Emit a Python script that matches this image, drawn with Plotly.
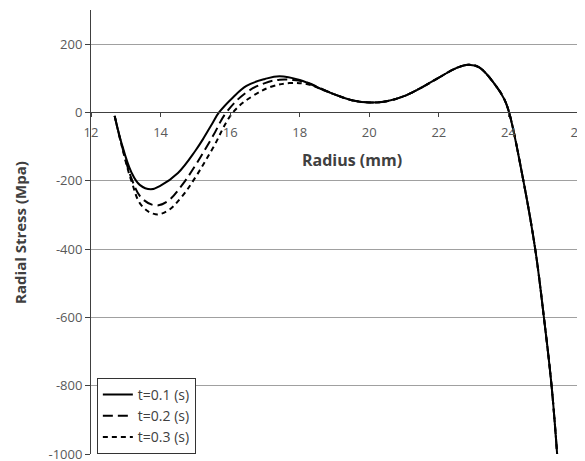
import plotly.graph_objects as go

# Radius (mm) and radial stress (MPa) for each time
r_t01 = [12.68, 12.87, 13.16, 13.40, 13.72, 14.0, 14.5, 15.0, 15.22, 15.5, 15.68, 16.08, 16.47, 17.0, 17.42, 18.0, 18.7, 19.0, 19.5, 20.05, 20.5, 21.0, 21.5, 22.0, 22.5, 22.85, 23.16, 23.64, 23.88, 24.02, 24.43, 24.77, 25.02, 25.24, 25.40]
s_t01 = [-10, -87, -175, -212, -225, -214, -177, -112, -78, -30, 0, 44, 78, 98, 106, 95, 65, 53, 36, 29, 33, 48, 73, 102, 130, 140, 132, 78, 39, 0, -200, -400, -600, -800, -1000]

r_t02 = [12.68, 12.87, 13.16, 13.45, 13.85, 14.2, 14.6, 15.0, 15.5, 15.89, 16.47, 17.0, 17.42, 17.8, 18.2, 18.7, 19.0, 19.5, 20.05, 20.5, 21.0, 21.5, 22.0, 22.5, 22.85, 23.16, 23.64, 23.88, 24.02, 24.43, 24.77, 25.02, 25.24, 25.40]
s_t02 = [-10, -90, -192, -250, -272, -260, -215, -155, -70, 0, 59, 86, 96, 95, 88, 66, 53, 36, 29, 33, 48, 73, 102, 130, 140, 132, 78, 39, 0, -200, -400, -600, -800, -1000]

r_t03 = [12.68, 12.87, 13.16, 13.45, 13.85, 14.2, 14.6, 15.0, 15.5, 16.08, 16.66, 17.2, 17.71, 18.2, 18.7, 19.0, 19.5, 20.05, 20.5, 21.0, 21.5, 22.0, 22.5, 22.85, 23.16, 23.64, 23.88, 24.02, 24.43, 24.77, 25.02, 25.24, 25.40]
s_t03 = [-10, -92, -200, -272, -298, -288, -248, -190, -105, 0, 49, 76, 86, 83, 65, 53, 36, 29, 33, 48, 73, 102, 130, 140, 132, 78, 39, 0, -200, -400, -600, -800, -1000]

series_names = ["t=0.1 (s)", "t=0.2 (s)", "t=0.3 (s)"]

x_range = [12, 26]
y_range = [-1000, 300]
x_ticks = [12, 14, 16, 18, 20, 22, 24, 26]
y_ticks = [-1000, -800, -600, -400, -200, 0, 200]

FONT = "Open Sans"

fig = go.Figure()
dashes = ["solid", "10px,5px", "5px,4px"]
for name, xs, ys, dash in zip(series_names, [r_t01, r_t02, r_t03], [s_t01, s_t02, s_t03], dashes):
    fig.add_trace(go.Scatter(
        x=xs, y=ys, mode="lines", name=name,
        line=dict(color="black", width=2, dash=dash, shape="spline", smoothing=1.1),
    ))

zero_pos = (0 - y_range[0]) / (y_range[1] - y_range[0])

fig.update_layout(
    width=585, height=461,
    margin=dict(l=83, r=15, t=2, b=15),
    paper_bgcolor="white", plot_bgcolor="white",
    font=dict(family=FONT, size=13, color="#595959"),
    showlegend=True,
    legend=dict(
        x=0.012, y=0.0, xanchor="left", yanchor="bottom",
        bgcolor="white", bordercolor="#333333", borderwidth=1,
        font=dict(family=FONT, size=14, color="#404040"),
        tracegroupgap=0, itemwidth=30,
    ),
    xaxis=dict(
        range=x_range, tickvals=x_ticks, ticktext=[str(v) for v in x_ticks],
        anchor="free", position=zero_pos,
        showline=True, linecolor="#404040", linewidth=1,
        ticks="outside", ticklen=4, tickcolor="#404040",
        showgrid=False, zeroline=False,
        ticklabelstandoff=4,
        tickfont=dict(family=FONT, size=13, color="#595959"),
    ),
    yaxis=dict(
        range=y_range, tickvals=y_ticks, ticktext=[str(v) for v in y_ticks],
        showline=True, linecolor="#404040", linewidth=1,
        ticks="outside", ticklen=5, tickcolor="#404040",
        showgrid=True, gridcolor="#a0a0a0", gridwidth=1,
        zeroline=False,
        tickfont=dict(family=FONT, size=13, color="#595959"),
    ),
    annotations=[
        dict(text="<b>Radius (mm)</b>", xref="paper", yref="paper",
             x=0.536, y=0.662, xanchor="center", yanchor="middle",
             showarrow=False, font=dict(family=FONT, size=16, color="#404040")),
        dict(text="<b>Radial Stress (Mpa)</b>", xref="paper", yref="paper",
             x=-0.146, y=0.5, xanchor="center", yanchor="middle", textangle=-90,
             showarrow=False, font=dict(family=FONT, size=15, color="#404040")),
    ],
)

fig.write_html("out.html")
